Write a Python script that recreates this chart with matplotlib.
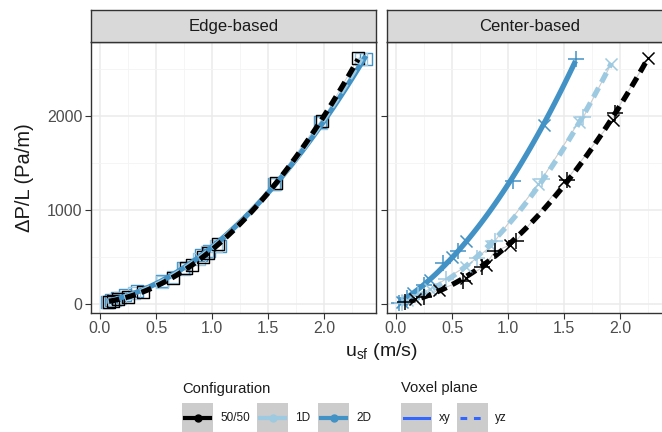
import numpy as np
import matplotlib
matplotlib.use("Agg")
import matplotlib.pyplot as plt
from matplotlib.patches import Rectangle
from matplotlib.lines import Line2D

plt.rcParams['font.family'] = ['Liberation Sans', 'DejaVu Sans']

# superficial velocity (m/s) and pressure gradient (Pa/m)
edge_5050_u = [0.08, 0.12, 0.16, 0.25, 0.38, 0.65, 0.77, 0.82, 0.92, 0.96, 1.05, 1.57, 1.98, 2.30]
edge_5050_dp = [25, 35, 50, 80, 130, 280, 380, 420, 500, 540, 640, 1290, 1950, 2620]
edge_1D_u = [0.07, 0.13, 0.18, 0.30, 0.55, 0.65, 0.75, 0.88, 0.95, 1.03, 1.56, 1.97, 2.33]
edge_1D_dp = [25, 45, 65, 120, 230, 290, 370, 480, 550, 620, 1280, 1930, 2610]
edge_2D_u = [0.06, 0.10, 0.15, 0.22, 0.33, 0.55, 0.74, 0.90, 0.97, 1.07, 1.55, 1.96, 2.37]
edge_2D_dp = [20, 40, 60, 95, 140, 250, 380, 520, 570, 620, 1280, 1940, 2610]

center_5050_u = [0.08, 0.17, 0.25, 0.38, 0.60, 0.62, 0.77, 0.80, 0.88, 1.02, 1.07, 1.50, 1.52, 1.93, 1.95, 2.25]
center_5050_dp = [20, 55, 80, 150, 250, 280, 390, 420, 560, 630, 670, 1310, 1320, 1960, 2030, 2620]
center_1D_u = [0.05, 0.10, 0.20, 0.30, 0.45, 0.62, 0.72, 0.85, 0.88, 1.27, 1.30, 1.63, 1.67, 1.92]
center_1D_dp = [10, 40, 100, 160, 270, 400, 490, 620, 670, 1280, 1330, 1940, 1990, 2560]
center_2D_u = [0.03, 0.05, 0.10, 0.15, 0.25, 0.30, 0.42, 0.50, 0.55, 0.62, 1.04, 1.32, 1.60]
center_2D_dp = [10, 20, 60, 120, 200, 260, 440, 500, 560, 670, 1310, 1910, 2610]

black = '#000000'
light = '#9ecae1'
blue = '#4292c6'

W, H = 662, 432
fig = plt.figure(figsize=(W / 100, H / 100), dpi=100)


def px_axes(x0, y0, x1, y1, **kw):
    return fig.add_axes([x0 / W, 1 - y1 / H, (x1 - x0) / W, (y1 - y0) / H], **kw)


def fit_line(ax, u, dp, color, ls, lw=3.8, z=3):
    u = np.asarray(u)
    coef = np.polyfit(u, dp, 2)
    uu = np.linspace(u.min(), u.max(), 100)
    line, = ax.plot(uu, np.polyval(coef, uu), color=color, lw=lw, zorder=z,
                    solid_capstyle='butt', dash_capstyle='butt')
    if ls == 'dash':
        line.set_dashes((2.0, 1.2))


def style_panel(ax, title, left):
    ax.set_xlim(-0.08, 2.46)
    ax.set_ylim(-95, 2790)
    ax.set_xticks([0, 0.5, 1.0, 1.5, 2.0])
    ax.set_xticklabels(['0.0', '0.5', '1.0', '1.5', '2.0'])
    ax.set_xticks([0.25, 0.75, 1.25, 1.75, 2.25], minor=True)
    ax.set_yticks([0, 1000, 2000])
    ax.set_yticks([500, 1500, 2500], minor=True)
    ax.grid(True, which='major', color='#ebebeb', lw=1.1, zorder=0)
    ax.grid(True, which='minor', color='#f4f4f4', lw=0.6, zorder=0)
    ax.tick_params(which='minor', length=0)
    ax.tick_params(which='major', length=4, width=0.8, color='#333333',
                   labelsize=11.5, labelcolor='#4d4d4d', pad=2)
    if not left:
        ax.tick_params(axis='y', labelleft=False)
    for s in ax.spines.values():
        s.set_color('#333333')
        s.set_linewidth(1.0)
    ax.set_axisbelow(True)
    # facet strip
    strip = ax.inset_axes([0, 1.0, 1, 32 / 271])
    strip.set_facecolor('#d9d9d9')
    strip.set_xticks([])
    strip.set_yticks([])
    for s in strip.spines.values():
        s.set_color('#333333')
        s.set_linewidth(1.0)
    strip.text(0.5, 0.5, title, ha='center', va='center', fontsize=12, color='#1a1a1a')


ax1 = px_axes(91, 42, 376, 313)
ax2 = px_axes(387, 42, 672, 313)
style_panel(ax1, 'Edge-based', True)
style_panel(ax2, 'Center-based', False)

# edge-based panel: open squares
for u, dp, c in [(edge_2D_u, edge_2D_dp, blue), (edge_1D_u, edge_1D_dp, light),
                 (edge_5050_u, edge_5050_dp, black)]:
    ax1.plot(u, dp, color='#cccccc', lw=0.6, zorder=2)
    ax1.scatter(u, dp, marker='s', s=75, facecolors='none', edgecolors=c, linewidths=1.0, zorder=2)
fit_line(ax1, edge_2D_u, edge_2D_dp, blue, 'solid', z=3)
fit_line(ax1, edge_1D_u, edge_1D_dp, light, 'dash', z=4)
fit_line(ax1, edge_5050_u, edge_5050_dp, black, 'dash', z=5)

# center-based panel: crosses
for u, dp, c in [(center_2D_u, center_2D_dp, blue), (center_1D_u, center_1D_dp, light),
                 (center_5050_u, center_5050_dp, black)]:
    ax2.plot(u, dp, color='#cccccc', lw=0.8, zorder=2)
    ax2.scatter(u[::2], dp[::2], marker='+', s=140, color=c, linewidths=1.1, zorder=4)
    ax2.scatter(u[1::2], dp[1::2], marker='x', s=75, color=c, linewidths=1.1, zorder=4)
fit_line(ax2, center_2D_u, center_2D_dp, blue, 'solid')
fit_line(ax2, center_1D_u, center_1D_dp, light, 'dash')
fit_line(ax2, center_5050_u, center_5050_dp, black, 'dash')

fig.text(25 / W, 1 - 178 / H, 'ΔP/L (Pa/m)', rotation=90, ha='center', va='center',
         fontsize=14.5, color='#1a1a1a')
fig.text(381 / W, 1 - 352 / H, r'u$_{\mathregular{sf}}$ (m/s)', ha='center', va='center',
         fontsize=14, color='#1a1a1a')

# legend, drawn on an overlay in pixel units
lg = fig.add_axes([0, 0, 1, 1], facecolor='none')
lg.set_xlim(0, W)
lg.set_ylim(H, 0)
lg.axis('off')
lg.text(182, 389, 'Configuration', fontsize=10.6, va='center', ha='left', color='#1a1a1a')
lg.text(401, 388, 'Voxel plane', fontsize=10.6, va='center', ha='left', color='#1a1a1a')
keys = [(182, black, '-', True, '50/50'), (257, light, '-', True, '1D'),
        (318, blue, '-', True, '2D'), (401, '#3366ff', '-', False, 'xy'),
        (457, '#3366ff', '--', False, 'yz')]
for x0, c, ls, dot, lab in keys:
    lg.add_patch(Rectangle((x0, 403), 31, 31, facecolor='#cccccc', edgecolor='none'))
    ln = Line2D([x0 + 3, x0 + 28], [418, 418], color=c, lw=3 if dot else 2.2)
    if ls == '--':
        ln.set_dashes((2.2, 2.2))
    lg.add_line(ln)
    if dot:
        lg.plot([x0 + 15.5], [418], 'o', color=c, ms=5)
    lg.text(x0 + 38, 418, lab, fontsize=8.5, va='center', ha='left', color='#1a1a1a')

fig.savefig('out.png', dpi=100)
